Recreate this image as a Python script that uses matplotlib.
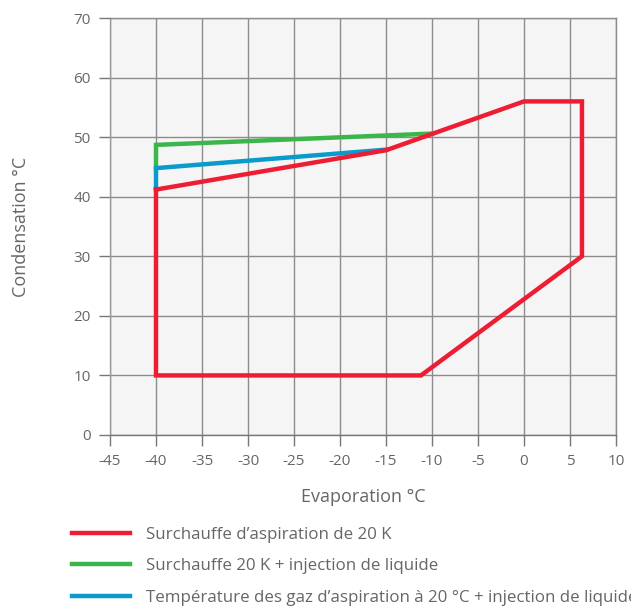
import matplotlib.pyplot as plt
import matplotlib as mpl

mpl.rcParams.update({
    "font.family": ["Open Sans", "DejaVu Sans"],
    "font.size": 10.5,
    "axes.unicode_minus": False,
    "text.color": "#666666",
    "axes.labelcolor": "#666666",
    "xtick.color": "#777777",
    "ytick.color": "#777777",
    "xtick.labelcolor": "#666666",
    "ytick.labelcolor": "#666666",
})

# envelope points (evaporation °C, condensation °C)
red_x = [-40, -15, 0, 6.3, 6.3, -11.2, -40, -40]
red_y = [41.2, 47.8, 56, 56, 30, 10, 10, 41.2]
green_x = [-40, -40, -10]
green_y = [44.8, 48.7, 50.6]
blue_x = [-40, -40, -15]
blue_y = [41.2, 44.8, 47.9]

labels = [
    "Surchauffe d\u2019aspiration de 20 K",
    "Surchauffe 20 K + injection de liquide",
    "Température des gaz d\u2019aspiration à 20 °C + injection de liquide",
]
colors = ["#ee1d33", "#3cb54a", "#0a9bcc"]

x_ticks = list(range(-45, 11, 5))
y_ticks = list(range(0, 71, 10))

fig = plt.figure(figsize=(6.31, 6.08), dpi=100)
ax = fig.add_axes([110 / 631, 1 - 435 / 608, 506 / 631, 417 / 608])
ax.set_facecolor("#f5f5f5")

lg, = ax.plot(green_x, green_y, color=colors[1], lw=3.2, solid_joinstyle="miter", zorder=3)
lb, = ax.plot(blue_x, blue_y, color=colors[2], lw=3.2, solid_joinstyle="miter", zorder=3)
lr, = ax.plot(red_x, red_y, color=colors[0], lw=3.2, solid_joinstyle="miter", zorder=4)

ax.set_xlim(-45, 10)
ax.set_ylim(0, 70)
ax.set_xticks(x_ticks)
ax.set_yticks(y_ticks)
ax.grid(True, color="#8c8c8c", lw=1.0)
ax.set_axisbelow(True)
for s in ax.spines.values():
    s.set_color("#8c8c8c")
    s.set_linewidth(1.0)
ax.spines["bottom"].set_color("#777777")
ax.spines["left"].set_color("#999999")
ax.tick_params(axis="both", direction="out", length=8, width=1, pad=6, labelsize=11)

ax.set_xlabel("Evaporation °C", fontsize=13, labelpad=13)
ax.set_ylabel("Condensation °C", fontsize=13, labelpad=31)

fig.legend([lr, lg, lb], labels, loc="upper left", bbox_to_anchor=(72 / 631, 1 - 527 / 608),
           frameon=False, fontsize=12.2, handlelength=3.43, handletextpad=0.95,
           labelspacing=0.9, borderpad=0, borderaxespad=0, labelcolor="#666666")

fig.savefig("out.png", dpi=100)
